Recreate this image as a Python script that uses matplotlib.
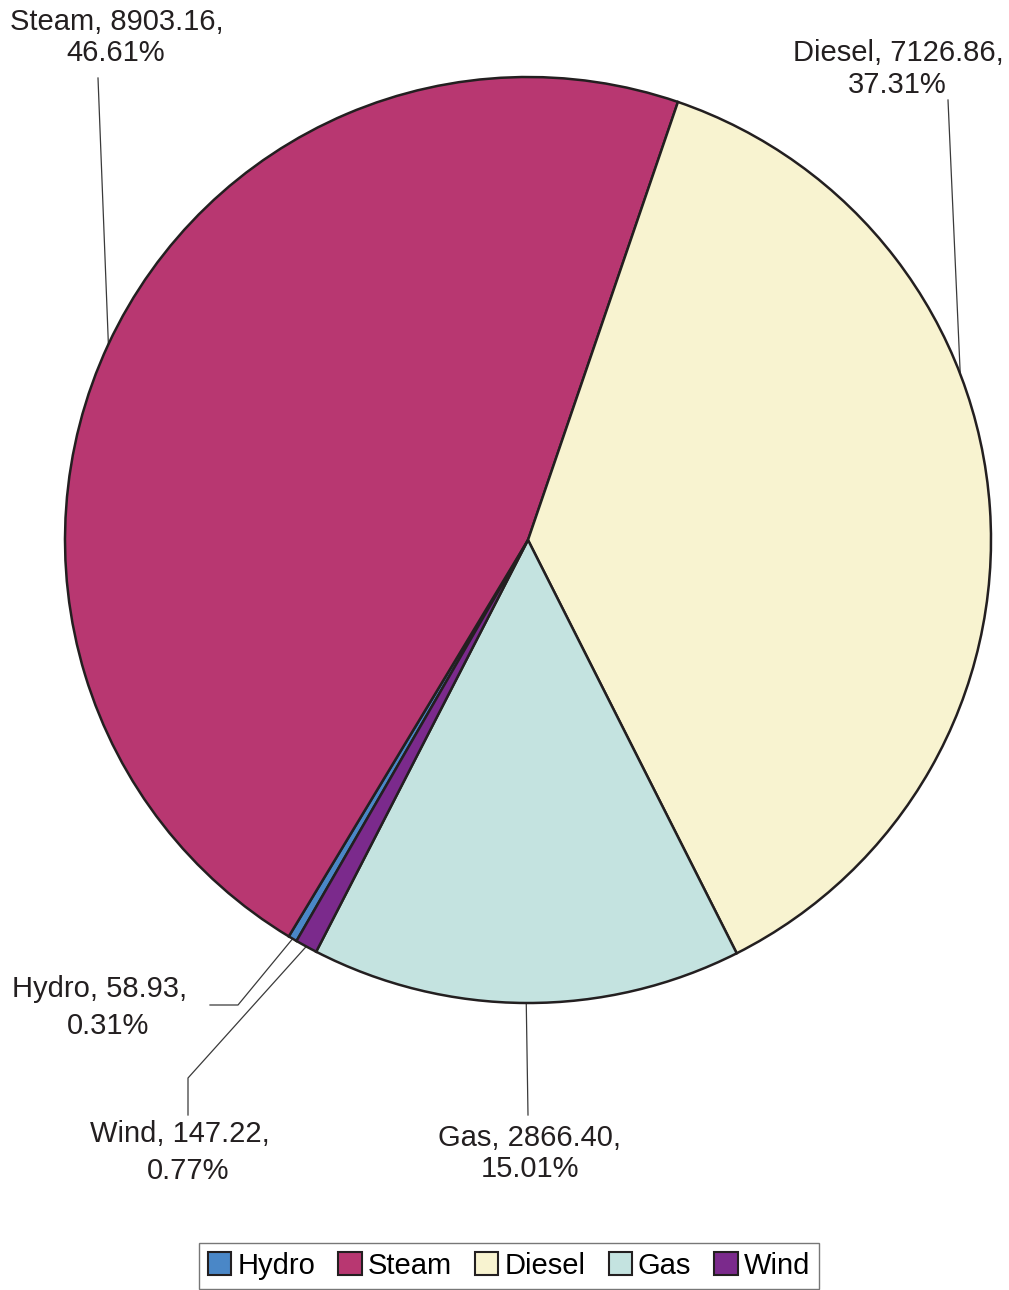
import numpy as np
import matplotlib
matplotlib.use("Agg")
import matplotlib.pyplot as plt

categories = ["Hydro", "Steam", "Diesel", "Gas", "Wind"]
values = [58.93, 8903.16, 7126.86, 2866.40, 147.22]
percents = ["0.31%", "46.61%", "37.31%", "15.01%", "0.77%"]
colors = ["#4a87c7", "#b83771", "#f8f3d0", "#c4e3e0", "#7b2a8c"]

plt.rcParams['font.family'] = ['Liberation Sans', 'DejaVu Sans']

W, H = 1009, 1290
fig = plt.figure(figsize=(W / 100, H / 100), dpi=100)
ax = fig.add_axes([0, 0, 1, 1])

cx, cy, r = 528, H - 540, 463
wedges, _ = ax.pie(values, colors=colors, startangle=-120, counterclock=False,
                   center=(cx, cy), radius=r, frame=True,
                   wedgeprops=dict(edgecolor="#231f20", linewidth=1.8))
ax.set_xlim(0, W)
ax.set_ylim(0, H)
ax.set_aspect('equal')
ax.axis('off')

# label layout (pixel coords from top): line centers, leader path points
label_layout = {
    "Steam": dict(l1=(117, 22), l2=(116, 53), path=[(98, 78)], ang=None),
    "Diesel": dict(l1=(898, 53), l2=(897, 85), path=[(948, 100)], ang=21),
    "Gas": dict(l1=(530, 1138), l2=(530, 1169), path=[(528, 1115)], ang=None),
    "Hydro": dict(l1=(100, 989), l2=(108, 1026), path=[(238, 1005), (210, 1005)], ang=None),
    "Wind": dict(l1=(180, 1134), l2=(188, 1171), path=[(188, 1078), (188, 1115)], ang=None),
}

for w, cat, val, pct in zip(wedges, categories, values, percents):
    lay = label_layout[cat]
    ang = lay["ang"] if lay["ang"] is not None else (w.theta1 + w.theta2) / 2
    sx = cx + r * np.cos(np.radians(ang))
    sy = cy + r * np.sin(np.radians(ang))
    xs = [sx] + [p[0] for p in lay["path"]]
    ys = [sy] + [H - p[1] for p in lay["path"]]
    ax.plot(xs, ys, color="#3a3a3a", linewidth=0.9, zorder=0.5)
    for txt, (tx, ty) in ((f"{cat}, {val:.2f},", lay["l1"]), (pct, lay["l2"])):
        ax.text(tx, H - ty, txt, ha='center', va='center',
                fontsize=21, color="#231f20")

leg = ax.legend(wedges, categories, loc='upper center',
                bbox_to_anchor=(509 / W, 1 - 1243 / H), ncol=5, frameon=True,
                fancybox=False, fontsize=21, handlelength=0.8, handleheight=0.8,
                handletextpad=0.2, columnspacing=0.8, borderpad=0.3,
                borderaxespad=0, edgecolor="#555555")
leg.get_frame().set_linewidth(1.0)
for h in leg.legend_handles:
    h.set_linewidth(1.5)
    h.set_edgecolor("#231f20")

fig.savefig("out.png", dpi=100)
